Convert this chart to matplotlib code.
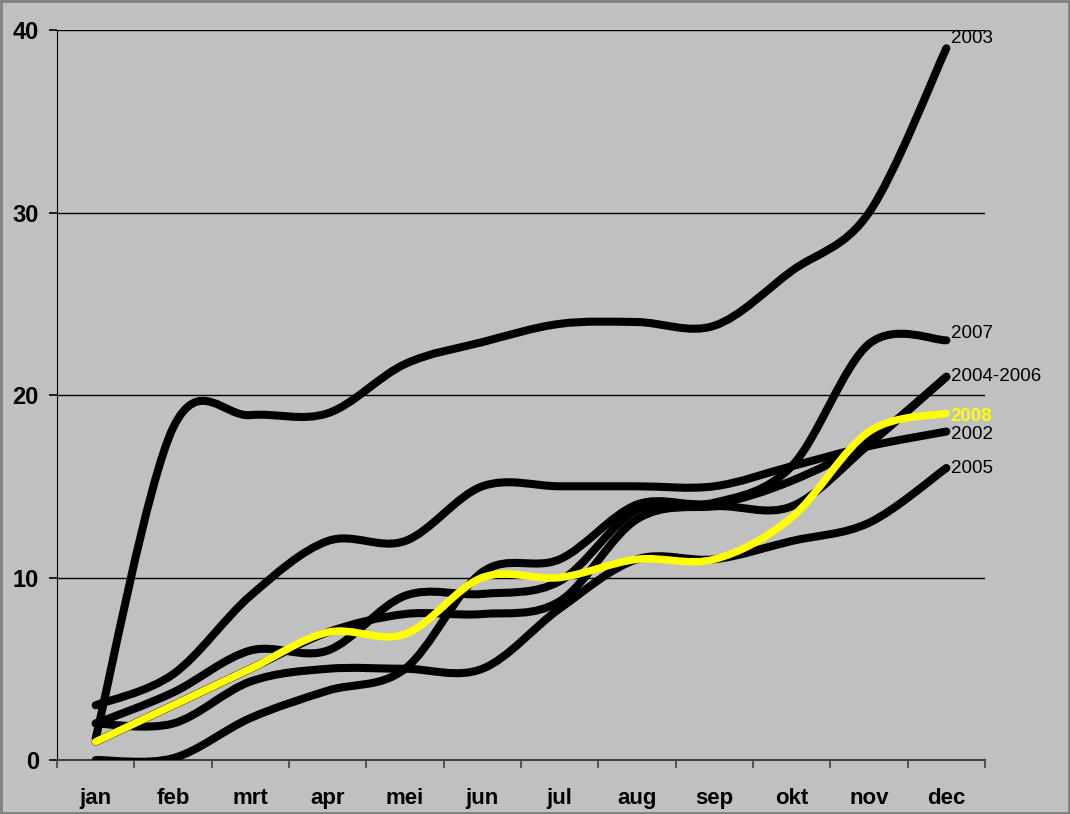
import numpy as np
import matplotlib.pyplot as plt
from matplotlib.path import Path
from matplotlib.patches import PathPatch, Rectangle

plt.rcParams['font.family'] = ['Liberation Sans', 'DejaVu Sans']

maanden = ['jan', 'feb', 'mrt', 'apr', 'mei', 'jun', 'jul', 'aug', 'sep', 'okt', 'nov', 'dec']

y2003 = [1.2, 18.2, 18.9, 19.0, 21.7, 22.9, 23.9, 24.0, 23.8, 26.8, 30.0, 39.0]
y2002 = [3.0, 4.7, 9.0, 12.0, 12.0, 15.0, 15.0, 15.0, 15.0, 16.1, 17.2, 18.0]
y2007 = [0.0, 0.1, 2.3, 3.8, 5.0, 10.3, 11.0, 14.0, 14.1, 16.1, 22.8, 23.0]
y2004 = [2.0, 3.7, 6.0, 6.0, 9.0, 9.1, 9.8, 13.7, 14.0, 15.3, 17.5, 21.0]
y2006 = [1.0, 3.0, 5.0, 7.0, 8.0, 8.0, 8.7, 13.2, 13.9, 13.9, 17.3, 21.0]
y2005 = [2.0, 2.0, 4.3, 5.0, 5.0, 5.0, 8.3, 11.0, 11.0, 12.0, 13.0, 16.0]
y2008 = [1.0, 3.0, 5.0, 7.0, 6.9, 10.0, 10.0, 11.0, 11.0, 13.3, 18.0, 19.0]

zwart = [y2003, y2002, y2007, y2004, y2006, y2005]

labels = ['2003', '2007', '2004-2006', '2008', '2002', '2005']
label_y = [y2003[-1], y2007[-1], y2004[-1], y2008[-1], y2002[-1], y2005[-1]]


def glad_pad(ys):
    # excel-achtige gladde lijn: bezier door de punten
    x = np.arange(len(ys), dtype=float)
    y = np.array(ys, dtype=float)
    pts = np.column_stack([x, y])
    n = len(pts)
    verts = [pts[0]]
    codes = [Path.MOVETO]
    for i in range(n - 1):
        p0 = pts[i - 1] if i > 0 else pts[i]
        p1 = pts[i]
        p2 = pts[i + 1]
        p3 = pts[i + 2] if i + 2 < n else pts[i + 1]
        c1 = p1 + (p2 - p0) / 6
        c2 = p2 - (p3 - p1) / 6
        verts += [c1, c2, p2]
        codes += [Path.CURVE4] * 3
    return Path(verts, codes)


fig = plt.figure(figsize=(10.7, 8.14), dpi=100, facecolor='#c0c0c0')
ax = fig.add_axes([0.0533, 0.0663, 0.8673, 0.8968])
ax.set_facecolor('#c0c0c0')

for ys in zwart:
    ax.add_patch(PathPatch(glad_pad(ys), fill=False, edgecolor='black', lw=5.8,
                           capstyle='round', joinstyle='round', zorder=3))
ax.add_patch(PathPatch(glad_pad(y2008), fill=False, edgecolor='#ffff00', lw=5.4,
                       capstyle='round', joinstyle='round', zorder=4))

ax.set_xlim(-0.5, 11.5)
ax.set_ylim(0, 40)
ax.set_yticks([0, 10, 20, 30, 40])
ax.set_xticks(range(12))
ax.set_xticklabels(maanden, fontsize=16, fontweight='bold')
ax.set_xticks(np.arange(-0.5, 12, 1), minor=True)
ax.tick_params(axis='x', which='major', length=0, pad=20)
ax.tick_params(axis='x', which='minor', length=6, width=1.2, color='#404040', direction='out')
ax.tick_params(axis='y', length=6, width=1.2, pad=7, labelsize=17)
for t in ax.get_yticklabels():
    t.set_fontweight('bold')

ax.yaxis.grid(True, color='black', lw=1)
ax.set_axisbelow(True)
for s in ['top', 'right']:
    ax.spines[s].set_visible(False)
ax.spines['left'].set_color('black')
ax.spines['bottom'].set_color('#404040')
ax.spines['bottom'].set_linewidth(1.5)

offsets = [7, 5, 0, -2, -2, 0]
for lab, yv, off in zip(labels, label_y, offsets):
    if lab == '2008':
        ax.annotate(lab, (11, yv), xytext=(3, off), textcoords='offset points',
                    va='center', ha='left', fontsize=13.5, color='#ffff00', fontweight='bold',
                    annotation_clip=False)
    else:
        ax.annotate(lab, (11, yv), xytext=(3, off), textcoords='offset points',
                    va='center', ha='left', fontsize=13.5, color='black',
                    annotation_clip=False)

fig.patches.append(Rectangle((0.001, 0.001), 0.998, 0.998, transform=fig.transFigure,
                             fill=False, edgecolor='#808080', lw=2))

fig.savefig('out.png', dpi=100, facecolor=fig.get_facecolor())
